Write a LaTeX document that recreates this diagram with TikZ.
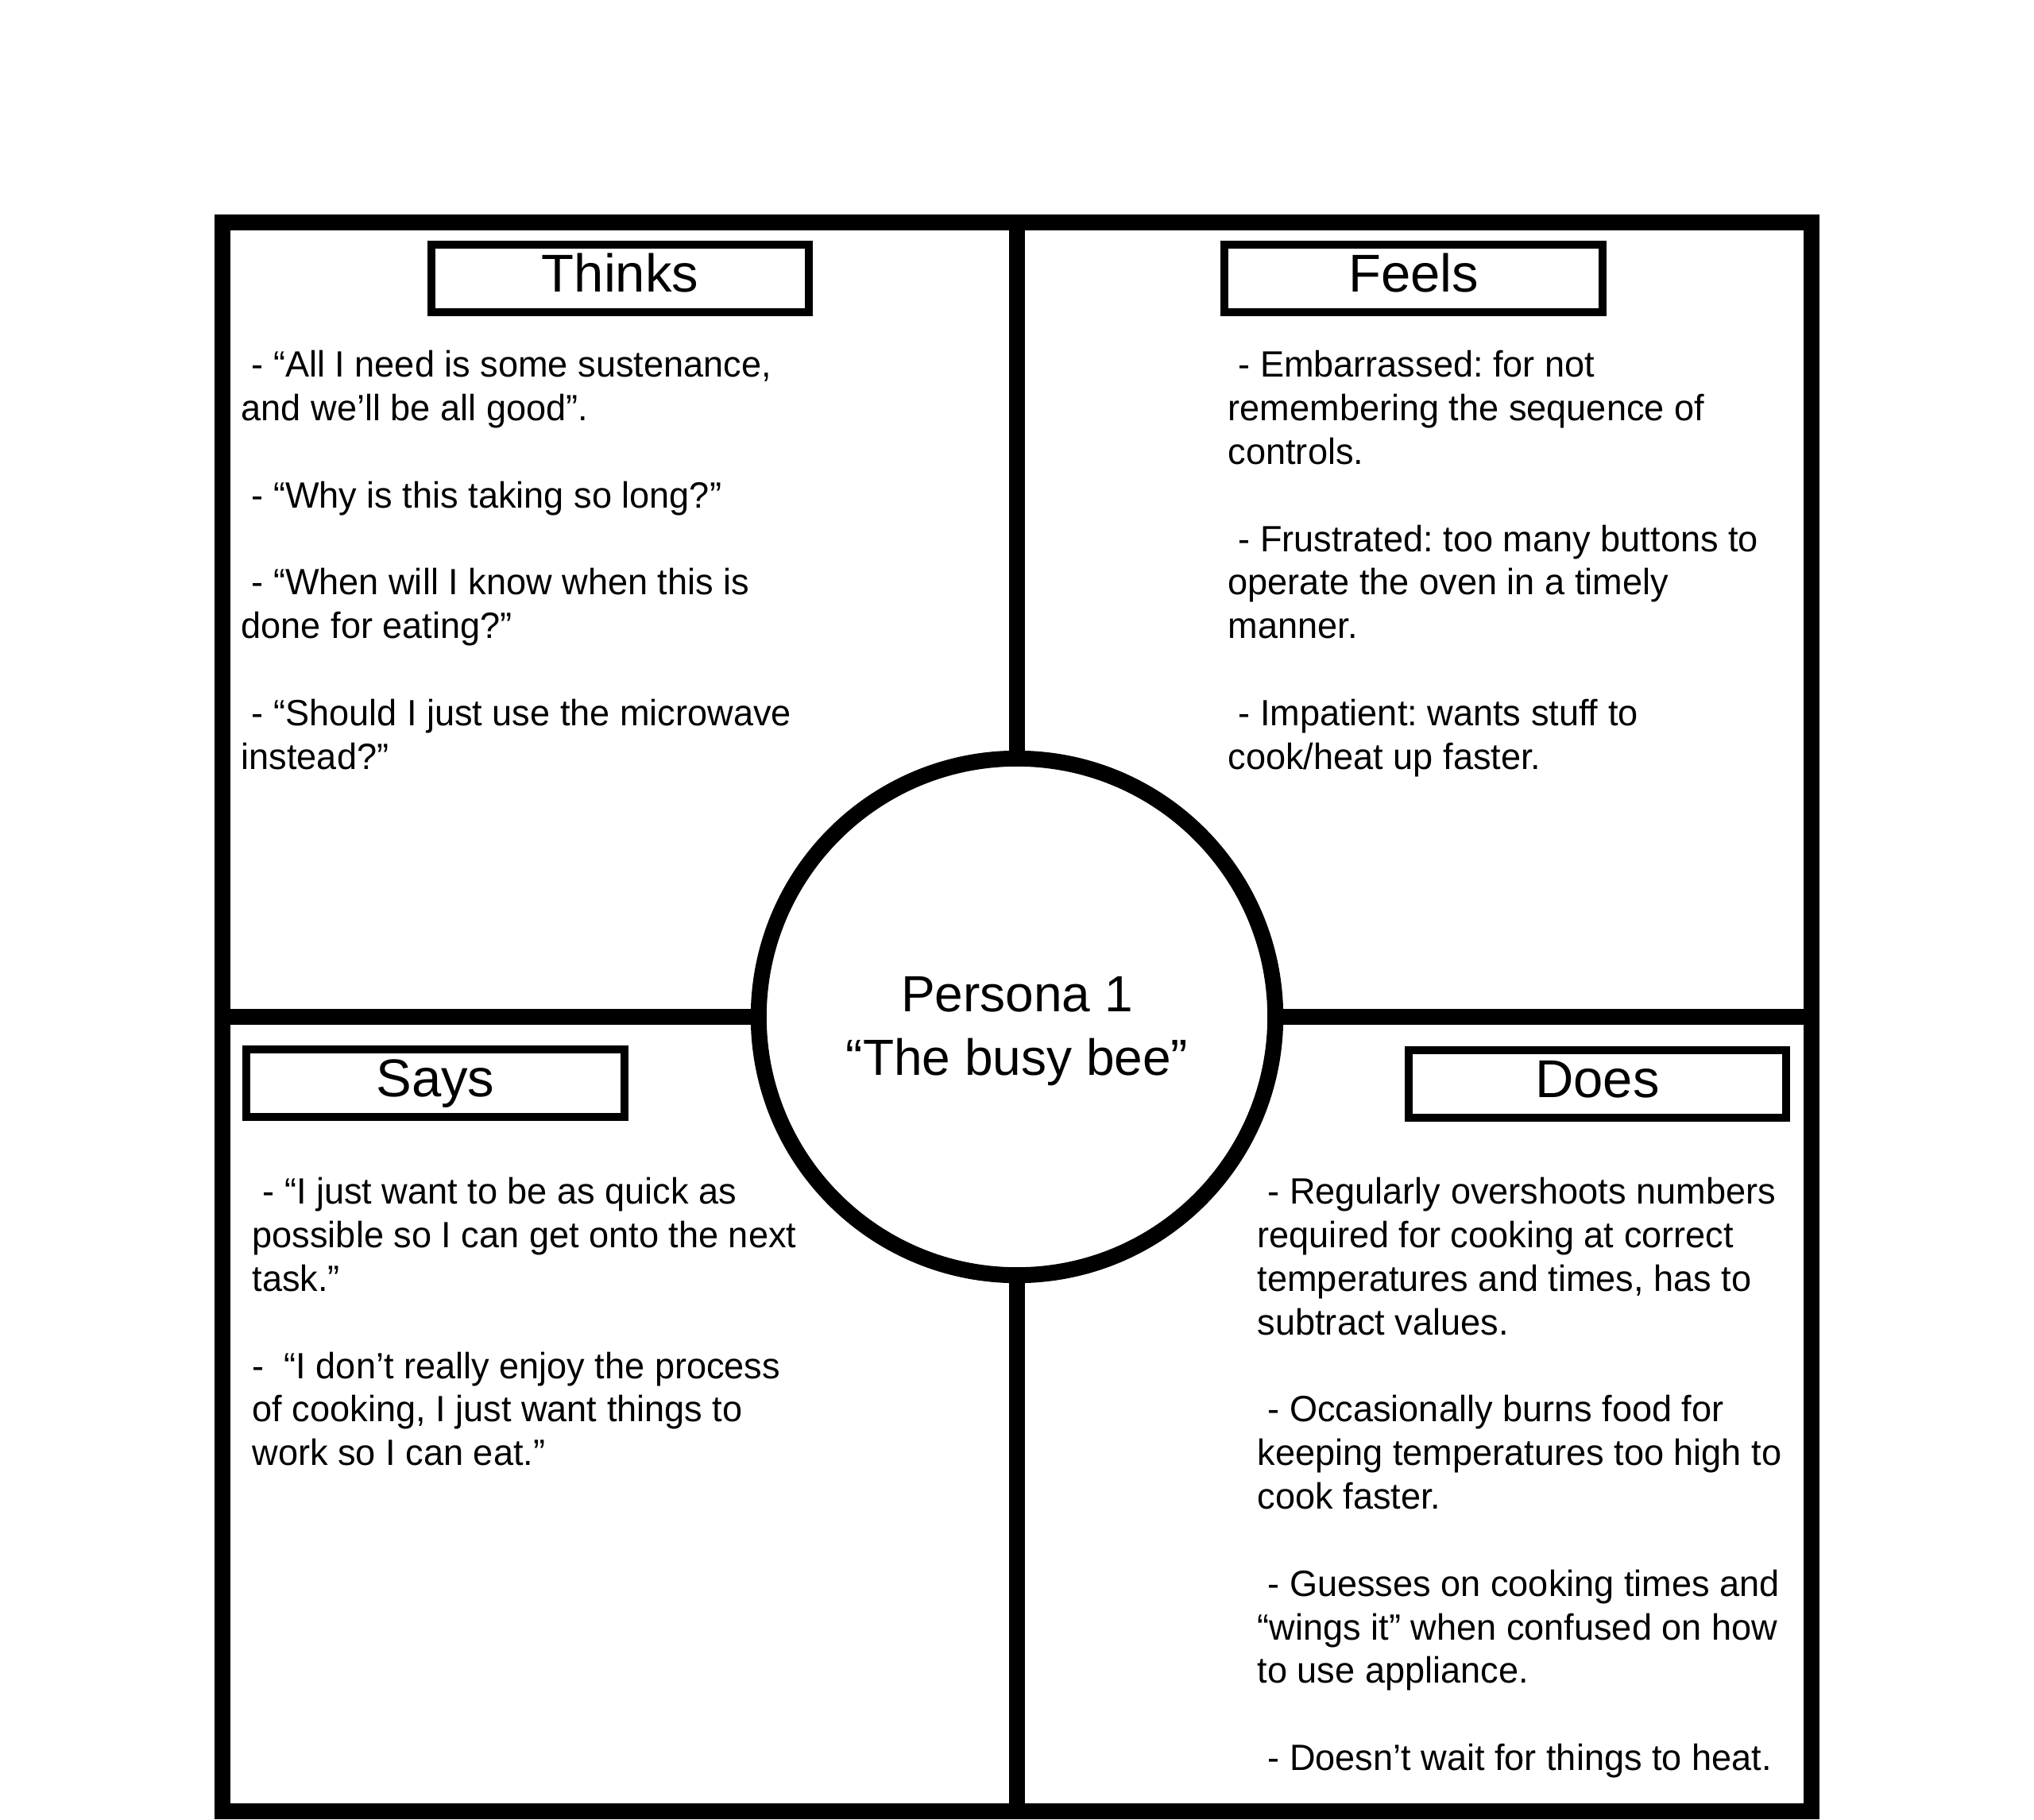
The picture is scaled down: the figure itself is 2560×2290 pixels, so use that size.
\documentclass[tikz,border=0pt]{standalone}
\usepackage{fontspec}
\setmainfont{Liberation Sans}
\newfontfamily\bodyfont{Liberation Sans}[FakeStretch=0.98]
\frenchspacing
\newcommand\lsp{\hspace*{0.278em}}
\newcommand\topstrut{\rule{0pt}{1em}}
\begin{document}
\begin{tikzpicture}[x=0.01cm,y=-0.01cm,
  frameline/.style={line width=5.69pt},
  titlebox/.style={draw, line width=2.845pt, minimum width=4.75cm, minimum height=0.85cm,
    inner sep=0pt, text height=0.49cm, text depth=0.16cm,
    font=\fontsize{19.06pt}{22pt}\selectfont},
  bodytext/.style={anchor=north west, inner sep=0pt, align=left,
    font=\bodyfont\fontsize{13.09pt}{15.59pt}\selectfont\frenchspacing},
  centre/.style={circle, draw, fill=white, line width=5.69pt, minimum size=6.5cm, inner sep=0pt}]
\useasboundingbox (0,0) rectangle (2560,2290);
\fill[white] (0,0) rectangle (2560,2290);

% outer frame
\draw[frameline] (280,280) rectangle (2280,2280);

% centre circle and dividers
\node[centre] (persona) at (1280,1280) {};
\coordinate (ftop) at (1280,280);
\coordinate (fbot) at (1280,2280);
\coordinate (fleft) at (280,1280);
\coordinate (fright) at (2280,1280);
\draw[frameline] (ftop) -- (persona);
\draw[frameline] (persona) -- (fbot);
\draw[frameline] (fleft) -- (persona);
\draw[frameline] (persona) -- (fright);

\node[anchor=north, inner sep=0pt, align=center, font=\fontsize{18.2pt}{22.76pt}\selectfont]
  (ptext) at (1280,1209) {\topstrut Persona 1\\“The busy bee”};

% titles
\node[titlebox] (thinks) at (780.5,350.5) {Thinks};
\node[titlebox] (feels) at (1779,350.5) {Feels};
\node[titlebox] (says) at (548,1363.5) {Says};
\node[titlebox] (does) at (2010.5,1364.5) {Does};

% body texts
\node[bodytext] (thinkstext) at (303,428) {\topstrut\lsp - “All I need is some sustenance,\\
and we’ll be all good”.\\ \mbox{}\\
\lsp - “Why is this taking so long?”\\ \mbox{}\\
\lsp - “When will I know when this is\\
done for eating?”\\ \mbox{}\\
\lsp - “Should I just use the microwave\\
instead?”};

\node[bodytext] (feelstext) at (1545,428) {\topstrut\lsp - Embarrassed: for not\\
remembering the sequence of\\
controls.\\ \mbox{}\\
\lsp - Frustrated: too many buttons to\\
operate the oven in a timely\\
manner.\\ \mbox{}\\
\lsp - Impatient: wants stuff to\\
cook/heat up faster.};

\node[bodytext] (saystext) at (317,1469) {\topstrut\lsp - “I just want to be as quick as\\
possible so I can get onto the next\\
task.”\\ \mbox{}\\
-\ \ “I don’t really enjoy the process\\
of cooking, I just want things to\\
work so I can eat.”};

\node[bodytext] (doestext) at (1582,1469) {\topstrut\lsp - Regularly overshoots numbers\\
required for cooking at correct\\
temperatures and times, has to\\
subtract values.\\ \mbox{}\\
\lsp - Occasionally burns food for\\
keeping temperatures too high to\\
cook faster.\\ \mbox{}\\
\lsp - Guesses on cooking times and\\
“wings it” when confused on how\\
to use appliance.\\ \mbox{}\\
\lsp - Doesn’t wait for things to heat.};
\end{tikzpicture}
\end{document}
